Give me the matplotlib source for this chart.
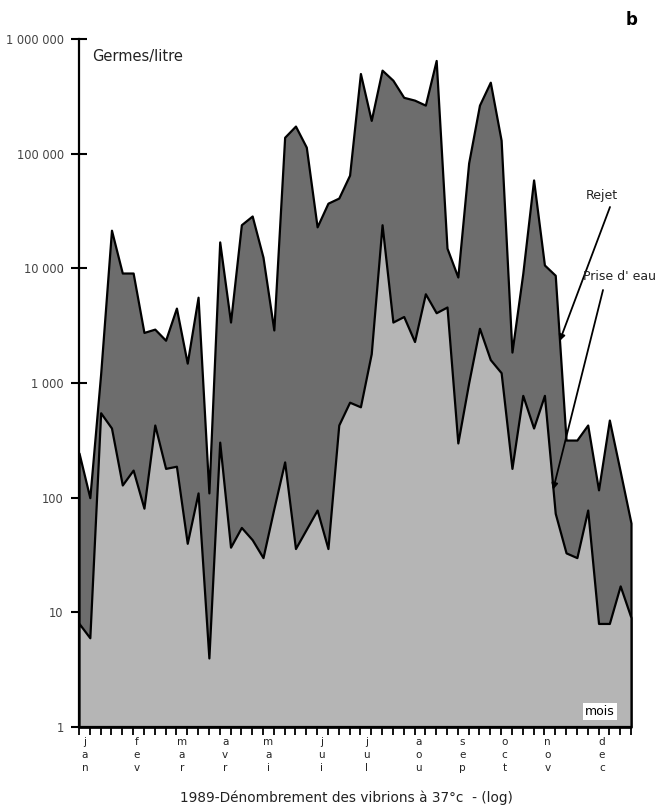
import matplotlib
matplotlib.use('Agg')
import matplotlib.pyplot as plt
from matplotlib.transforms import blended_transform_factory
from matplotlib.ticker import NullLocator
import numpy as np

# ---- data ----
weeks = list(range(52))
rejet = [245, 100, 1200, 21500, 9100, 9100, 2760, 2950, 2360, 4500, 1490, 5600,
         110, 17000, 3400, 24000, 28600, 12500, 2900, 139000, 174000, 114000,
         23000, 37000, 41000, 65000, 500000, 195000, 535000, 437000, 310000,
         293000, 265000, 650000, 15000, 8400, 83000, 265000, 420000, 131000,
         1860, 9000, 59000, 10700, 8700, 318, 318, 430, 117, 475, 170, 60]
prise = [8, 6, 550, 405, 129, 174, 81, 430, 180, 188, 40, 110, 4, 305, 37, 55,
         43, 30, 80, 205, 36, 53, 78, 36, 430, 680, 620, 1800, 24000, 3400,
         3800, 2300, 6000, 4100, 4600, 300, 1000, 3000, 1600, 1230, 180, 780,
         405, 780, 73, 33, 30, 78, 8, 8, 17, 9]
ytick_values = [1, 10, 100, 1000, 10000, 100000, 1000000]
ytick_labels = ["1", "10", "100", "1 000", "10 000", "100 000", "1 000 000"]
month_labels = ["jan", "fev", "mar", "avr", "mai", "jui",
                "jul", "aou", "sep", "oct", "nov", "dec"]
month_pos = [0.55, 5.3, 9.5, 13.5, 17.5, 22.4, 26.6, 31.4, 35.4, 39.3, 43.3, 48.3]

W, H = 663, 808
fig = plt.figure(figsize=(W / 100, H / 100), dpi=100)
ax = fig.add_axes([79 / W, 81 / H, 552 / W, 688 / H])
ax.set_yscale('log')
ax.set_ylim(1, 1e6)
ax.set_xlim(0, 51)

ax.fill_between(weeks, rejet, 1, facecolor='#6d6d6d', edgecolor='black',
                linewidth=1.6, clip_on=False, zorder=2)
ax.fill_between(weeks, prise, 1, facecolor='#b5b5b5', edgecolor='black',
                linewidth=1.6, clip_on=False, zorder=3)

for s in ['top', 'right']:
    ax.spines[s].set_visible(False)
for s in ['left', 'bottom']:
    ax.spines[s].set_linewidth(1.6)
    ax.spines[s].set_zorder(5)

ax.set_yticks(ytick_values)
ax.set_yticklabels(ytick_labels)
ax.yaxis.set_minor_locator(NullLocator())
ax.tick_params(axis='y', direction='inout', length=12, width=1.5, pad=5,
               labelsize=8.3, labelcolor='#444444')
ax.set_xticks(weeks)
ax.set_xticklabels([])
ax.tick_params(axis='x', direction='out', length=6, width=1.3)

trans = blended_transform_factory(ax.transData, ax.transAxes)
for lab, pos in zip(month_labels, month_pos):
    ax.text(pos, -0.014, "\n".join(lab), transform=trans, ha='center',
            va='top', fontsize=7.5, linespacing=1.4, color='#222222')

ax.text(0.0236, 0.975, "Germes/litre", transform=ax.transAxes, ha='left',
        va='center', fontsize=10.5, color='#222222')
ax.text(0.944, 0.022, "mois", transform=ax.transAxes, ha='center',
        va='center', fontsize=9, zorder=6,
        bbox=dict(facecolor='white', edgecolor='none', pad=1.5))

fig.text(0.522, 1 - 798 / H, "1989-Dénombrement des vibrions à 37°c  - (log)",
         ha='center', va='center', fontsize=9.8, color='#222222')
fig.text(632 / W, 1 - 20 / H, "b", fontweight='bold', fontsize=12,
         ha='center', va='center')


def on_line(series, xpos):
    i = int(np.floor(xpos))
    f = xpos - i
    lv = (1 - f) * np.log10(series[i]) + f * np.log10(series[i + 1])
    return (xpos, 10 ** lv)


fig.text(602 / W, 1 - 195 / H, "Rejet", ha='center', va='center',
         fontsize=9, color='#222222')
ax.annotate('', xy=on_line(rejet, 44.4), xycoords='data',
            xytext=(610 / W, 1 - 207 / H), textcoords='figure fraction',
            arrowprops=dict(arrowstyle='-|>', color='black', lw=1.3,
                            mutation_scale=9, shrinkA=0, shrinkB=0),
            annotation_clip=False, zorder=6)

fig.text(583 / W, 1 - 276 / H, "Prise d' eau", ha='left', va='center',
         fontsize=9, color='#222222')
ax.annotate('', xy=on_line(prise, 43.8), xycoords='data',
            xytext=(603 / W, 1 - 290 / H), textcoords='figure fraction',
            arrowprops=dict(arrowstyle='-|>', color='black', lw=1.3,
                            mutation_scale=9, shrinkA=0, shrinkB=0),
            annotation_clip=False, zorder=6)

fig.savefig("out.png", dpi=100)
